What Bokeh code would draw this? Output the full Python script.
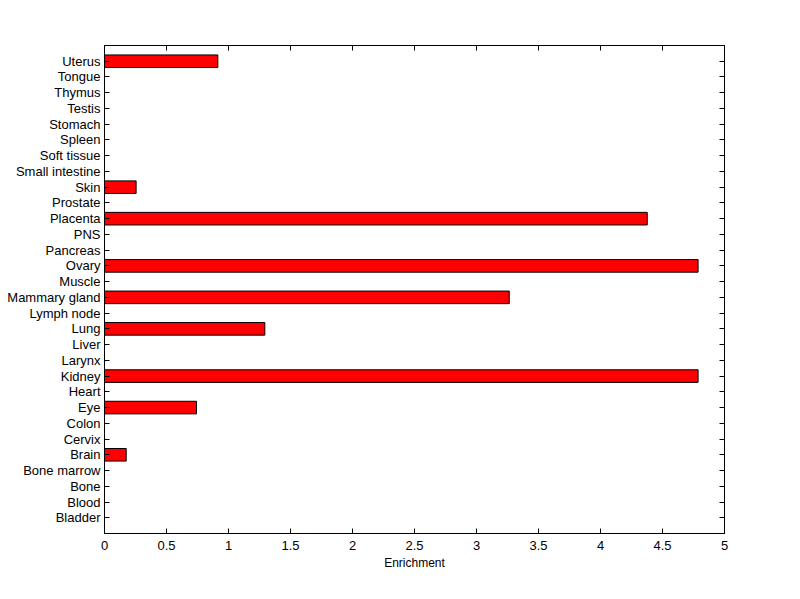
from bokeh.plotting import figure
from bokeh.models import Range1d, FactorRange, FixedTicker, LinearAxis, CategoricalAxis, ColumnDataSource
from bokeh.embed import file_html
from bokeh.resources import INLINE

# Categories listed bottom to top
tissues = ["Bladder", "Blood", "Bone", "Bone marrow", "Brain", "Cervix", "Colon", "Eye",
           "Heart", "Kidney", "Larynx", "Liver", "Lung", "Lymph node", "Mammary gland",
           "Muscle", "Ovary", "Pancreas", "PNS", "Placenta", "Prostate", "Skin",
           "Small intestine", "Soft tissue", "Spleen", "Stomach", "Testis", "Thymus",
           "Tongue", "Uterus"]
enrichment = [0, 0, 0, 0, 0.175, 0, 0, 0.742,
              0, 4.787, 0, 0, 1.293, 0, 3.264,
              0, 4.787, 0, 0, 4.377, 0, 0.255,
              0, 0, 0, 0, 0, 0,
              0, 0.914]
x_ticks = [0, 0.5, 1, 1.5, 2, 2.5, 3, 3.5, 4, 4.5, 5]
x_tick_labels = ["0", "0.5", "1", "1.5", "2", "2.5", "3", "3.5", "4", "4.5", "5"]
x_label = "Enrichment"

FONT = "Liberation Sans"
FS = "13px"

src = ColumnDataSource(dict(tissue=tissues, value=enrichment))

p = figure(frame_width=620, frame_height=488,
           y_range=FactorRange(factors=tissues, range_padding=0.5, range_padding_units="absolute"),
           x_range=Range1d(0, 5),
           output_backend="svg", toolbar_location=None,
           min_border_left=104, min_border_right=76, min_border_top=45, min_border_bottom=66,
           background_fill_color="white", border_fill_color="white")

p.hbar(y="tissue", right="value", left=0, height=0.8, source=src,
       fill_color="#ff0000", line_color="black", line_width=1)

p.xgrid.visible = False
p.ygrid.visible = False
p.outline_line_color = "black"
p.outline_line_width = 1
p.outline_line_alpha = 1

overrides = {t: l for t, l in zip(x_ticks, x_tick_labels)}

def style_axis(ax, show_labels=True, standoff=4):
    ax.axis_line_color = "black"
    ax.major_tick_line_color = "black"
    ax.major_tick_in = 5
    ax.major_tick_out = 0
    ax.minor_tick_line_color = None
    ax.major_label_text_font = FONT
    ax.major_label_text_font_size = FS
    ax.major_label_standoff = standoff
    if show_labels:
        ax.major_label_text_color = "black"
    else:
        ax.major_label_text_color = None
        ax.major_label_standoff = 0

xa = p.xaxis[0]
xa.ticker = FixedTicker(ticks=x_ticks)
xa.major_label_overrides = overrides
style_axis(xa, standoff=7)
xa.axis_label = x_label
xa.axis_label_text_font = FONT
xa.axis_label_text_font_size = "12px"
xa.axis_label_text_font_style = "normal"
xa.axis_label_text_color = "black"
xa.axis_label_standoff = 3

ya = p.yaxis[0]
style_axis(ya, standoff=4)

top = LinearAxis(ticker=FixedTicker(ticks=x_ticks))
style_axis(top, show_labels=False)
p.add_layout(top, "above")

right = CategoricalAxis()
style_axis(right, show_labels=False)
p.add_layout(right, "right")

open("out.html", "w").write(file_html(p, INLINE))
